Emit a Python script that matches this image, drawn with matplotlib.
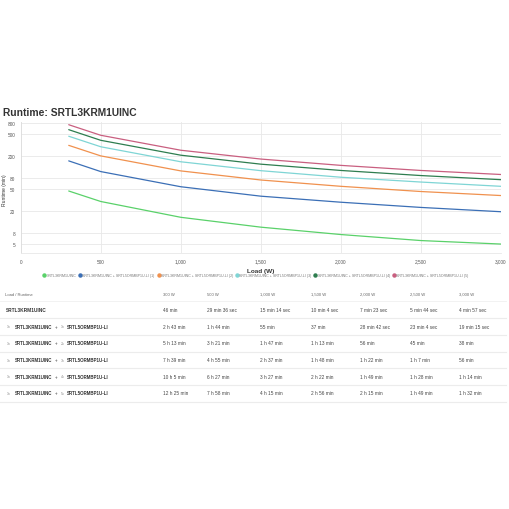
import matplotlib
matplotlib.use('Agg')
import matplotlib.pyplot as plt
from matplotlib.lines import Line2D
from matplotlib.ticker import FixedLocator, FuncFormatter, NullLocator

plt.rcParams['font.family'] = ['Liberation Sans', 'DejaVu Sans']

loads = [300, 500, 1000, 1500, 2000, 2500, 3000]
load_labels = ['300 W', '500 W', '1,000 W', '1,500 W', '2,000 W', '2,500 W', '3,000 W']
ext_counts = [0, 1, 2, 3, 4, 5]
runtime_text = [
    ['46 min', '29 min 36 sec', '15 min 14 sec', '10 min 4 sec', '7 min 23 sec', '5 min 44 sec', '4 min 57 sec'],
    ['2 h 43 min', '1 h 44 min', '55 min', '37 min', '28 min 42 sec', '23 min 4 sec', '19 min 15 sec'],
    ['5 h 13 min', '3 h 21 min', '1 h 47 min', '1 h 13 min', '56 min', '45 min', '38 min'],
    ['7 h 39 min', '4 h 55 min', '2 h 37 min', '1 h 48 min', '1 h 22 min', '1 h 7 min', '56 min'],
    ['10 h 5 min', '6 h 27 min', '3 h 27 min', '2 h 22 min', '1 h 49 min', '1 h 28 min', '1 h 14 min'],
    ['12 h 25 min', '7 h 58 min', '4 h 15 min', '2 h 56 min', '2 h 15 min', '1 h 49 min', '1 h 32 min'],
]
series_colors = ['#5ad16a', '#3b6fb6', '#f0914e', '#7fd5d5', '#2e7d4f', '#c95f80']
y_ticks = [5, 8, 20, 50, 80, 200, 500, 800]
x_ticks = [0, 500, 1000, 1500, 2000, 2500, 3000]


def to_minutes(s):
    parts = s.split()
    total = 0.0
    for num, unit in zip(parts[::2], parts[1::2]):
        if unit == 'h':
            total += float(num) * 60
        elif unit == 'min':
            total += float(num)
        else:
            total += float(num) / 60
    return total


runtimes = [[to_minutes(v) for v in row] for row in runtime_text]

fig = plt.figure(figsize=(5.1, 5.1), dpi=100)
W = 510.0

ax = fig.add_axes([20.7 / W, 1 - 254 / W, (501 - 20.7) / W, (254 - 123) / W])
handles = []
labels = []
for n, row, col in zip(ext_counts, runtimes, series_colors):
    if n == 0:
        lab = 'SRTL3KRM1UINC'
    else:
        lab = 'SRTL3KRM1UINC + SRTL5ORMBP1U-LI (%d)' % n
    ax.plot(loads, row, color=col, lw=0.9, solid_capstyle='round', solid_joinstyle='round')
    handles.append(Line2D([], [], color=col, marker='o', markersize=2.2, lw=0))
    labels.append(lab)

ax.set_yscale('log')
ax.set_ylim(3.4, 835)
ax.set_xlim(0, 3000)
ax.yaxis.set_major_locator(FixedLocator(y_ticks))
ax.yaxis.set_minor_locator(NullLocator())
ax.yaxis.set_major_formatter(FuncFormatter(lambda v, p: '%g' % v))
ax.xaxis.set_major_locator(FixedLocator(x_ticks))
ax.xaxis.set_major_formatter(FuncFormatter(lambda v, p: '{:,}'.format(int(round(v)))))
ax.tick_params(length=0, labelsize=3.4, labelcolor='#555555', pad=4)
ax.grid(True, color='#e8e8e8', lw=0.6)
ax.set_axisbelow(True)
for s in ['top', 'right']:
    ax.spines[s].set_visible(False)
ax.spines['left'].set_color('#dddddd')
ax.spines['bottom'].set_color('#e8e8e8')
ax.spines['left'].set_linewidth(0.6)
ax.spines['bottom'].set_linewidth(0.6)
ax.set_xlabel('Load (W)', fontsize=4.6, color='#333333', fontweight='bold', labelpad=3)
fig.text(5 / W, 1 - 190 / W, 'Runtime (min)', fontsize=3.6, color='#333333',
         rotation=90, ha='center', va='center')

fig.text(3 / W, 1 - 113 / W, 'Runtime: SRTL3KRM1UINC', fontsize=7.4,
         fontweight='bold', color='#333333', va='center', ha='left')

fig.legend(handles, labels, loc='center', bbox_to_anchor=(256 / W, 1 - 276 / W),
           ncol=6, fontsize=2.6, frameon=False, handlelength=0.4,
           handletextpad=0.4, columnspacing=0.9, labelcolor='#777777')

# table underneath
tab = fig.add_axes([0, 0, 1, 1])
tab.set_xlim(0, W)
tab.set_ylim(W, 0)
tab.axis('off')
tab.patch.set_alpha(0)

col_x = [163.5, 207.5, 260, 311.5, 360, 410, 459.5]
head_y = 295
row_y0 = 310.5
row_h = 16.7
fs = 3.25

tab.text(5, head_y, 'Load / Runtime', fontsize=3.0, color='#666666', va='center')
for x, lab in zip(col_x, load_labels):
    tab.text(x, head_y, lab, fontsize=3.0, color='#666666', va='center')
tab.plot([0, 506], [head_y + 7, head_y + 7], color='#f0f0f0', lw=0.6)

for i, (n, row) in enumerate(zip(ext_counts, runtime_text)):
    y = row_y0 + i * row_h
    if n == 0:
        tab.text(5.5, y, 'SRTL3KRM1UINC', fontsize=fs + 0.15, fontweight='bold',
                 color='#333333', va='center')
    else:
        tab.text(7, y, '1x', fontsize=2.6, color='#888888', va='center')
        tab.text(15, y, 'SRTL3KRM1UINC', fontsize=fs, fontweight='bold',
                 color='#333333', va='center')
        tab.text(54.5, y, '+', fontsize=fs, color='#555555', va='center')
        tab.text(61, y, '%dx' % n, fontsize=2.6, color='#888888', va='center')
        tab.text(67, y, 'SRTL5ORMBP1U-LI', fontsize=fs, fontweight='bold',
                 color='#333333', va='center')
    for x, v in zip(col_x, row):
        tab.text(x, y, v, fontsize=3.4, color='#444444', va='center')
    tab.plot([0, 506], [y + 8.6, y + 8.6], color='#ececec', lw=0.8)

fig.savefig('out.png', dpi=100, facecolor='white')
